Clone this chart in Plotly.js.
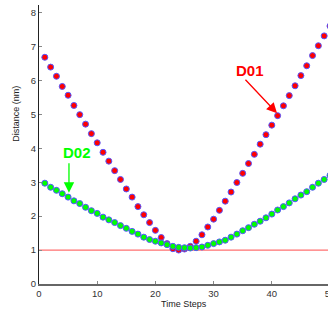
<!DOCTYPE html>
<html>
<head>
<meta charset="utf-8">
<script src="https://cdn.plot.ly/plotly-3.0.1.min.js"></script>
<style>
html,body{margin:0;padding:0;overflow:hidden;background:#fff;width:328px;height:331px;}
#chart{width:345px;height:331px;}
</style>
</head>
<body>
<div id="chart"></div>
<script>
const timeSteps = [1,2,3,4,5,6,7,8,9,10,11,12,13,14,15,16,17,18,19,20,21,22,23,24,25,26,27,28,29,30,31,32,33,34,35,36,37,38,39,40,41,42,43,44,45,46,47,48,49,50];
const d01 = [6.68,6.39,6.12,5.82,5.56,5.26,4.99,4.71,4.43,4.16,3.88,3.62,3.34,3.08,2.80,2.56,2.28,2.04,1.81,1.58,1.37,1.19,1.04,1.00,1.03,1.11,1.26,1.45,1.68,1.91,2.17,2.44,2.71,2.99,3.26,3.55,3.82,4.12,4.40,4.68,4.96,5.25,5.55,5.84,6.14,6.43,6.73,7.02,7.31,7.60];
const d02 = [2.97,2.85,2.76,2.66,2.56,2.45,2.37,2.26,2.16,2.08,1.97,1.89,1.81,1.72,1.64,1.55,1.47,1.38,1.31,1.26,1.21,1.16,1.11,1.08,1.07,1.06,1.07,1.09,1.14,1.19,1.24,1.29,1.38,1.47,1.57,1.66,1.76,1.85,1.95,2.06,2.18,2.28,2.39,2.51,2.62,2.72,2.85,2.97,3.08,3.20];
const refLineX = [0, 50];
const refLineY = [1, 1];
const xTicks = [0,10,20,30,40,50];
const yTicks = [0,1,2,3,4,5,6,7,8];
const seriesNames = ['D01','D02'];

const edge = {color:'#5555ff', width:1};
const traces = [
  {x: refLineX, y: refLineY, mode:'lines', line:{color:'#ff7070', width:1.3}, hoverinfo:'skip'},
  {x: timeSteps, y: d01, mode:'markers', name: seriesNames[0],
   marker:{size:6, color:'#ff0000', line:edge}},
  {x: timeSteps, y: d02, mode:'markers', name: seriesNames[1],
   marker:{size:6, color:'#00ff00', line:edge}}
];

const font = 'Liberation Sans, Arial, sans-serif';
const layout = {
  width:345, height:331,
  margin:{l:39, r:15, t:5, b:47},
  paper_bgcolor:'#fff', plot_bgcolor:'#fff',
  showlegend:false,
  xaxis:{range:[0,50], tickvals:xTicks, ticktext:xTicks.map(String),
    showgrid:false, zeroline:false, showline:true, linecolor:'#666', linewidth:1.5,
    ticks:'inside', ticklen:3, tickcolor:'#888',
    tickfont:{family:font, size:9.5, color:'#333'}},
  yaxis:{range:[0,8.22], tickvals:yTicks, ticktext:yTicks.map(String),
    showgrid:false, zeroline:false, showline:true, linecolor:'#222', linewidth:1,
    ticks:'inside', ticklen:3, tickcolor:'#888',
    tickfont:{family:font, size:9.5, color:'#333'}},
  annotations:[
    {xref:'paper', yref:'paper', x:-0.079, y:0.61, text:'Distance (nm)', textangle:-90,
     showarrow:false, font:{family:font, size:9, color:'#222'}, xanchor:'center', yanchor:'middle'},
    {xref:'paper', yref:'paper', x:0.498, y:-0.071, text:'Time Steps',
     showarrow:false, font:{family:font, size:9, color:'#222'}, xanchor:'center', yanchor:'middle'},
    {xref:'paper', yref:'paper', x:0.507, y:-0.19, text:'d',
     showarrow:false, font:{family:'Liberation Serif, Times New Roman, serif', size:21, color:'#111'}, xanchor:'center', yanchor:'top'},
    {x:40.9, y:5.03, text:'', showarrow:true, ax:-33, ay:-35,
     arrowcolor:'#ff0000', arrowwidth:1.3, arrowhead:2, arrowsize:1.6},
    {x:36.2, y:6.29, text:'<b>D01</b>', showarrow:false,
     font:{family:font, size:15, color:'#ff0000'}, xanchor:'center', yanchor:'middle'},
    {x:5.15, y:2.69, text:'', showarrow:true, ax:0, ay:-31,
     arrowcolor:'#00ff00', arrowwidth:1.3, arrowhead:2, arrowsize:1.6},
    {x:6.6, y:3.87, text:'<b>D02</b>', showarrow:false,
     font:{family:font, size:15, color:'#00ff00'}, xanchor:'center', yanchor:'middle'}
  ]
};
Plotly.newPlot('chart', traces, layout, {staticPlot:true, displayModeBar:false});
</script>
</body>
</html>
